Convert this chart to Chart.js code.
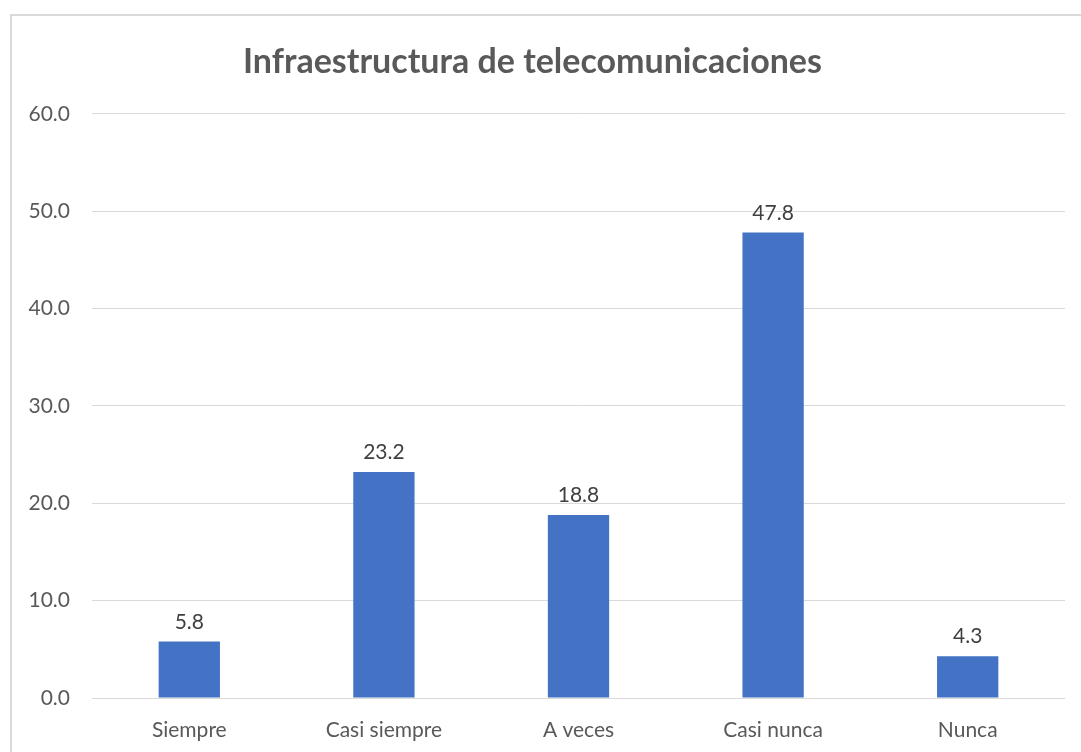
<!DOCTYPE html>
<html>
<head>
<meta charset="utf-8">
<script src="https://cdn.jsdelivr.net/npm/chart.js@4"></script>
<style>
  html, body { margin: 0; padding: 0; background: #fff; overflow: hidden; }
  #wrap { position: relative; width: 1081px; height: 752px; }
  #frame {
    position: absolute; left: 10px; top: 14px; width: 1200px; height: 900px;
    border: 2px solid #d9d9d9; box-sizing: border-box;
  }
  canvas { position: absolute; left: 0; top: 0; }
</style>
</head>
<body>
<div id="wrap">
  <div id="frame"></div>
  <canvas id="chart" width="1081" height="752"></canvas>
</div>
<script>
// DATA
const categories = ['Siempre', 'Casi siempre', 'A veces', 'Casi nunca', 'Nunca'];
const values = [5.8, 23.2, 18.8, 47.8, 4.3];
const chartTitle = 'Infraestructura de telecomunicaciones';

const FONT = 'Lato, "Open Sans", sans-serif';

// labels over the bars
const barLabels = {
  id: 'barLabels',
  afterDatasetsDraw(chart) {
    const ctx = chart.ctx;
    const meta = chart.getDatasetMeta(0);
    ctx.save();
    ctx.font = '21px ' + FONT;
    ctx.fillStyle = '#404040';
    ctx.textAlign = 'center';
    ctx.textBaseline = 'bottom';
    meta.data.forEach((bar, i) => {
      ctx.fillText(values[i].toFixed(1), bar.x, bar.y - 9);
    });
    ctx.restore();
  },
};

const chart = new Chart(document.querySelector('#chart'), {
  type: 'bar',
  data: {
    labels: categories,
    datasets: [
      {
        data: values,
        backgroundColor: '#4472C4',
        barPercentage: 0.63,
        categoryPercentage: 0.5,
      },
    ],
  },
  options: {
    responsive: false,
    animation: false,
    layout: {
      padding: { left: 0, right: 16, top: 0, bottom: 0 },
    },
    plugins: {
      legend: false,
      tooltip: false,
      title: {
        display: true,
        text: chartTitle,
        color: '#595959',
        font: { family: FONT, size: 34, weight: 'bold' },
        padding: { top: 42, bottom: 31 },
      },
    },
    scales: {
      x: {
        afterFit: (scale) => { scale.height = 54; },
        grid: { display: false },
        border: { display: false },
        ticks: {
          color: '#595959',
          font: { family: FONT, size: 21 },
          padding: 12,
        },
      },
      y: {
        min: 0,
        max: 60,
        afterFit: (scale) => { scale.width = 92; },
        grid: { color: '#d9d9d9', lineWidth: 1, drawTicks: false },
        border: { display: false },
        ticks: {
          stepSize: 10,
          color: '#595959',
          font: { family: FONT, size: 21 },
          padding: 22,
          callback: (v) => Number(v).toFixed(1),
        },
      },
    },
  },
  plugins: [barLabels],
});
</script>
</body>
</html>
